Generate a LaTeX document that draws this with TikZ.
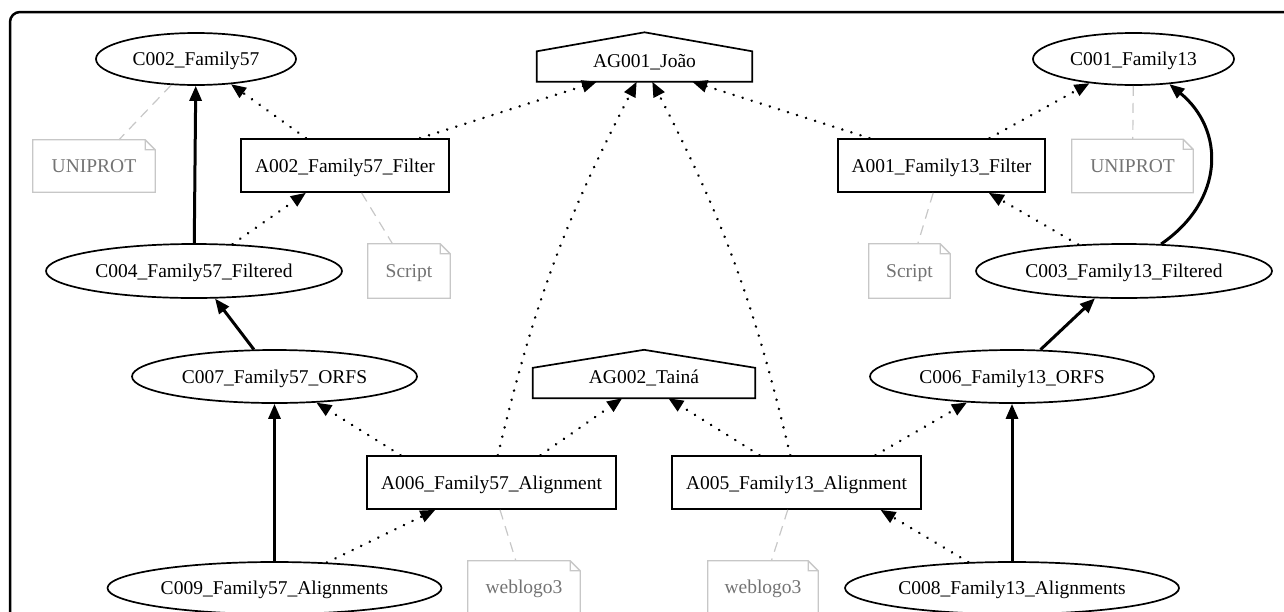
\documentclass[tikz,border=0pt]{standalone}
\usepackage{fontspec}
\setmainfont{Liberation Serif}
\usetikzlibrary{arrows.meta,shapes.geometric}
\begin{document}
\begin{tikzpicture}[x=1pt,y=-1pt,
  every node/.style={font=\fontsize{19.5}{23}\selectfont, inner sep=0pt, text height=13pt, text depth=0pt},
  ell/.style={draw, ellipse, line width=1.7pt},
  box/.style={draw, rectangle, line width=1.7pt, minimum height=53pt},
  agent/.style={rectangle, minimum height=30pt, text depth=12pt},
  note/.style={rectangle, text=black!55},
  notebd/.style={draw=black!22, line width=1.3pt, line join=miter},
  housebd/.style={draw, line width=1.7pt, line join=miter},
  prov/.style={line width=3pt, -{Triangle[length=15pt,width=12pt]}},
  used/.style={line width=2.8pt, line cap=round, dash pattern=on 0.01pt off 9.5pt, -{Triangle[length=15pt,width=12pt]}},
  ann/.style={draw=black!22, line width=1.2pt, dash pattern=on 10pt off 7pt}
]
\useasboundingbox (0,0) rectangle (1284,611);
\clip (0,0) rectangle (1284,611);
\draw[line width=2.5pt, rounded corners=10pt] (10,640) -- (10,12) -- (1300,12);

% nodes
\node[ell, minimum width=200pt, minimum height=52pt] (C002) at (196,59) {C002\_Family57};
\node[ell, minimum width=201pt, minimum height=52pt] (C001) at (1133.5,59) {C001\_Family13};
\node[agent, minimum width=215pt] (AG001) at (644.5,66.5) {AG001\_João};
\node[note, minimum width=122pt, minimum height=52pt] (U1) at (94,166) {UNIPROT};
\node[box, minimum width=208pt] (A002) at (345,165.5) {A002\_Family57\_Filter};
\node[box, minimum width=207pt] (A001) at (941.5,165.5) {A001\_Family13\_Filter};
\node[note, minimum width=121pt, minimum height=53pt] (U2) at (1132.5,166) {UNIPROT};
\node[ell, minimum width=296pt, minimum height=54pt] (C004) at (194,271) {C004\_Family57\_Filtered};
\node[note, minimum width=82pt, minimum height=54pt] (S1) at (409,271) {Script};
\node[note, minimum width=81pt, minimum height=54pt] (S2) at (909.5,271) {Script};
\node[ell, minimum width=296pt, minimum height=54pt] (C003) at (1124,271) {C003\_Family13\_Filtered};
\node[ell, minimum width=285pt, minimum height=53pt] (C007) at (274.5,376.5) {C007\_Family57\_ORFS};
\node[agent, minimum width=222pt] (AG002) at (644,383) {AG002\_Tainá};
\node[ell, minimum width=284pt, minimum height=53pt] (C006) at (1012,376.5) {C006\_Family13\_ORFS};
\node[box, minimum width=249pt] (A006) at (491.5,482.5) {A006\_Family57\_Alignment};
\node[box, minimum width=249pt] (A005) at (796.5,482.5) {A005\_Family13\_Alignment};
\node[ell, minimum width=334pt, minimum height=52pt] (C009) at (274.5,588) {C009\_Family57\_Alignments};
\node[note, minimum width=112pt, minimum height=52pt] (W1) at (524,587) {weblogo3};
\node[note, minimum width=110pt, minimum height=52pt] (W2) at (763,587) {weblogo3};
\node[ell, minimum width=334pt, minimum height=52pt] (C008) at (1012,588) {C008\_Family13\_Alignments};

% note outlines (folded corner)
\foreach \n in {U1,U2,S1,S2,W1,W2}
  \draw[notebd] (\n.south west) -- (\n.north west) -- ([xshift=-10pt]\n.north east) -- ([yshift=-10pt]\n.north east) -- (\n.south east) -- cycle
                ([xshift=-10pt]\n.north east) |- ([yshift=-10pt]\n.north east);

% agent house outlines
\foreach \n/\h in {AG001/19,AG002/18}
  \draw[housebd] (\n.south west) -- (\n.north west) -- ([yshift=\h pt]\n.north) -- (\n.north east) -- (\n.south east) -- cycle;

% derivation edges (solid)
\draw[prov] (C004) -- (C002);
\draw[prov] (C007) -- (C004);
\draw[prov] (C009) -- (C007);
\draw[prov] (C006) -- (C003);
\draw[prov] (C008) -- (C006);
\draw[prov] (C003.36) .. controls (1225,200) and (1225,130) .. (C001.-35);

% used / associated edges (dotted)
\draw[used] ([xshift=-39pt]A002.north) -- (C002);
\draw[used] ([xshift=75pt]A002.north) -- (AG001);
\draw[used] (C004) -- (A002);
\draw[used] ([xshift=-72pt]A001.north) -- (AG001);
\draw[used] ([xshift=48pt]A001.north) -- (C001);
\draw[used] (C003) -- (A001);
\draw[used] (A006) to[bend left=7] (AG001);
\draw[used] (A005) to[bend right=7] (AG001);
\draw[used] ([xshift=-91pt]A006.north) -- (C007);
\draw[used] ([xshift=49pt]A006.north) -- (AG002);
\draw[used] ([xshift=-37pt]A005.north) -- (AG002);
\draw[used] ([xshift=79pt]A005.north) -- (C006);
\draw[used] (C009) -- (A006);
\draw[used] (C008) -- ([xshift=84pt]A005.south);

% annotation links (gray dashed)
\draw[ann] (C002) -- (U1);
\draw[ann] (A002) -- (S1);
\draw[ann] (C001) -- (U2);
\draw[ann] (A001) -- (S2);
\draw[ann] (A006) -- (W1);
\draw[ann] (A005) -- (W2);
\end{tikzpicture}
\end{document}
